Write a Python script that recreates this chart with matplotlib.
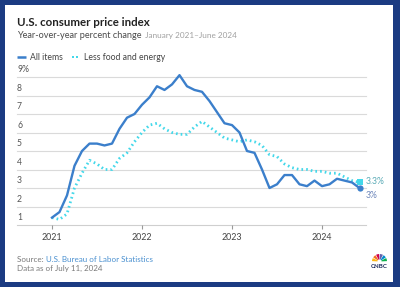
import numpy as np
import matplotlib
matplotlib.use("Agg")
import matplotlib.pyplot as plt
from matplotlib.patches import Rectangle, Wedge

## Data (monthly, Jan 2021 - Jun 2024)
all_items = [1.4, 1.7, 2.6, 4.2, 5.0, 5.4, 5.4, 5.3, 5.4, 6.2, 6.8, 7.0,
             7.5, 7.9, 8.5, 8.3, 8.6, 9.1, 8.5, 8.3, 8.2, 7.7, 7.1, 6.5,
             6.4, 6.0, 5.0, 4.9, 4.0, 3.0, 3.2, 3.7, 3.7, 3.2, 3.1, 3.4,
             3.1, 3.2, 3.5, 3.4, 3.3, 3.0]
core = [1.4, 1.3, 1.6, 3.0, 3.8, 4.5, 4.3, 4.0, 4.0, 4.6, 4.9, 5.5,
        6.0, 6.4, 6.5, 6.2, 6.0, 5.9, 5.9, 6.3, 6.6, 6.3, 6.0, 5.7,
        5.6, 5.5, 5.6, 5.5, 5.3, 4.8, 4.7, 4.3, 4.1, 4.0, 4.0, 3.9,
        3.9, 3.8, 3.8, 3.6, 3.4, 3.3]
years = [2021, 2022, 2023, 2024]
y_ticks = [1, 2, 3, 4, 5, 6, 7, 8, 9]
end_labels = ["3%", "3.3%"]

x = 2021 + np.arange(len(all_items)) / 12

BLUE = "#3b7fcb"
CYAN = "#43d8ea"
NAVY = "#1b3b82"

plt.rcParams['font.family'] = ['Lato', 'DejaVu Sans']

W, H = 400, 287
fig = plt.figure(figsize=(4, 2.87), dpi=100)
fig.patch.set_facecolor(NAVY)

# white card + overlay axes in pixel coords
leg = fig.add_axes([0, 0, 1, 1], facecolor="none", zorder=-5)
leg.set_xlim(0, W)
leg.set_ylim(H, 0)
leg.axis("off")
leg.add_patch(Rectangle((5, 5), 388, 277, facecolor="white", edgecolor="none", zorder=0))

# titles
leg.text(17, 22, "U.S. consumer price index", fontsize=8.3, fontweight="bold",
         color="#222222", va="center", ha="left")
t1 = leg.text(17, 35, "Year-over-year percent change", fontsize=6.6,
              color="#4a4a4a", va="center", ha="left")
leg.annotate(" January 2021\u2013June 2024", xy=(1, 0), xycoords=t1, xytext=(1, 0.6),
             textcoords="offset points", fontsize=5.9, color="#a0a0a0",
             va="bottom", ha="left")

# legend
leg.plot([17, 26], [57, 57], color=BLUE, lw=1.8, solid_capstyle="butt")
leg.text(30, 57, "All items", fontsize=6.2, color="#444444", va="center")
leg.plot([73, 76.5], [57, 57], ls="none", marker="s", ms=1.6, color=CYAN, mew=0)
leg.text(84, 57, "Less food and energy", fontsize=6.2, color="#444444", va="center")

# footer
s = leg.text(17, 259, "Source: ", fontsize=5.8, color="#7a7a7a", va="center")
leg.annotate("U.S. Bureau of Labor Statistics", xy=(1, 0.5), xycoords=s,
             fontsize=5.8, color="#4a90d0", va="center", ha="left")
leg.text(17, 268, "Data as of July 11, 2024", fontsize=5.8, color="#7a7a7a", va="center")

# CNBC logo (y axis inverted, so feathers use angles 180-360)
colors = ["#fcb711", "#f37021", "#cc004c", "#6460aa", "#0089d0", "#0db14b"]
for i, c in enumerate(colors):
    a0 = 180 + i * 30
    leg.add_patch(Wedge((379.5, 261.5), 7.5, a0 + 3, a0 + 27, width=5.5,
                        facecolor=c, edgecolor="none"))
leg.text(379.5, 266.5, "CNBC", fontsize=4.4, fontweight="bold", color="#1b2a5a",
         ha="center", va="center")

# main chart
ax = fig.add_axes([17 / W, 1 - 225 / H, 349 / W, 148 / H], facecolor="none")
ax.set_xlim(2021 - 35 / 90, 2021 + 314 / 90)
ax.set_ylim(1, 9)
for s_ in ax.spines.values():
    s_.set_visible(False)
ax.set_yticks([])
for v in y_ticks:
    ax.axhline(v, color="#dadada" if v > 1 else "#cfcfcf", lw=0.8, zorder=0, clip_on=False)
    lab = "9%" if v == 9 else str(v)
    ax.annotate(lab, (0, v), xycoords=("axes fraction", "data"), xytext=(0, 2),
                textcoords="offset points", fontsize=6.2, color="#555555",
                va="bottom", ha="left")
ax.set_xticks(years)
ax.set_xticklabels([str(y) for y in years], fontsize=6.4, color="#444444")
ax.tick_params(axis="x", length=3, width=0.8, color="#999999", pad=2.5)

ax.plot(x, core, color=CYAN, lw=2, ls=(0, (0.6, 1.1)), dash_capstyle="butt",
        clip_on=False, zorder=3)
ax.plot(x, all_items, color=BLUE, lw=1.7, clip_on=False, zorder=4,
        solid_joinstyle="round")
ax.plot(x[-1], core[-1], marker="s", ms=4, color=CYAN, mew=0, clip_on=False, zorder=5)
ax.plot(x[-1], all_items[-1], marker="o", ms=4.5, color=BLUE, mew=0, clip_on=False, zorder=6)
ax.annotate(end_labels[1], (x[-1], core[-1]), xytext=(4.5, 0.5), textcoords="offset points",
            fontsize=6.2, color="#5aaab6", va="center", ha="left")
ax.annotate(end_labels[0], (x[-1], all_items[-1]), xytext=(4.5, -5.5), textcoords="offset points",
            fontsize=6.2, color="#6f88bb", va="center", ha="left")

fig.savefig("out.png", dpi=100, facecolor=NAVY)
